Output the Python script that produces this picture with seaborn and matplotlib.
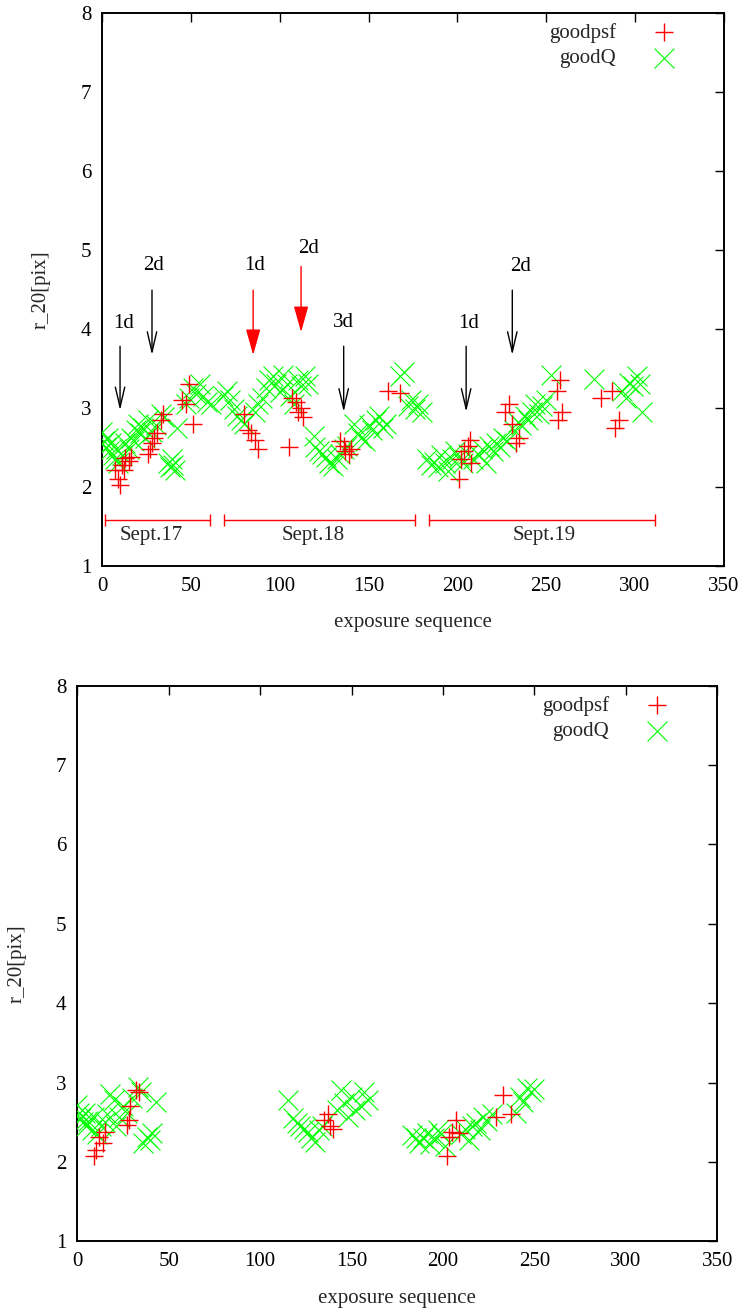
import matplotlib
matplotlib.use("Agg")
import matplotlib.pyplot as plt
import seaborn as sns
import pandas as pd
from matplotlib.patches import ArrowStyle

# ---------------- data: top panel ----------------
top_psf_x = [7, 9, 10, 11, 12, 13, 15, 16, 26, 27, 28, 29, 31, 33, 34, 45, 47, 49, 51,
             80, 82, 84, 86, 88, 105, 107, 109, 110, 112, 113, 134, 136, 137, 139, 140,
             161, 168, 201, 202, 204, 206, 207, 208, 227, 229, 231, 233, 235,
             256, 258, 257, 259, 281, 287, 289, 291]
top_psf_y = [2.22, 2.10, 2.03, 2.28, 2.22, 2.37, 2.33, 2.38, 2.42, 2.48, 2.55, 2.62, 2.68, 2.85, 2.92, 3.10, 3.05, 3.30, 2.80,
             2.92, 2.72, 2.68, 2.60, 2.48, 2.50, 3.12, 3.08, 2.95, 3.00, 2.88, 2.58, 2.52, 2.45, 2.42, 2.48,
             3.21, 3.19, 2.10, 2.35, 2.45, 2.52, 2.60, 2.30, 2.95, 3.05, 2.80, 2.55, 2.62,
             3.22, 3.35, 2.85, 2.95, 3.13, 3.22, 2.75, 2.85]

top_q_x = [0, 1, 2, 3, 4, 5, 6, 7, 8, 9, 11, 13, 15, 16, 18, 19, 20, 21, 23, 24, 26, 28, 30, 33, 35,
           37, 38, 39, 40, 41, 42, 47, 49, 51, 53, 55, 57, 59, 61,
           68, 70, 72, 74, 76, 78, 80, 86, 88, 90, 92, 94, 96, 98, 100, 102, 104, 106, 108, 110, 112, 114, 116,
           119, 120, 122, 124, 126, 128, 130, 132, 134, 136, 138, 142, 144, 146, 148, 150, 152, 154, 156, 158, 160,
           168, 170, 172, 174, 176, 178, 180,
           183, 185, 187, 189, 191, 193, 195, 197, 199, 201, 203, 206, 209, 212, 214, 216, 218, 220, 222, 224, 226, 228,
           232, 234, 236, 238, 240, 242, 244, 246, 248, 250, 253, 277, 293, 295, 297, 299, 301, 303, 304]
top_q_y = [2.70, 2.58, 2.50, 2.62, 2.45, 2.55, 2.40, 2.35, 2.48, 2.30, 2.40, 2.55, 2.48, 2.62, 2.58, 2.72, 2.80, 2.68, 2.75, 2.62, 2.85, 2.70, 2.78, 2.92, 2.88,
           2.30, 2.25, 2.35, 2.28, 2.22, 2.75, 3.05, 3.12, 3.25, 3.18, 3.30, 3.15, 3.08, 3.05,
           3.15, 3.22, 3.10, 2.98, 2.90, 2.85, 2.80, 2.95, 3.05, 3.12, 3.25, 3.35, 3.40, 3.30, 3.20, 3.42, 3.30, 3.15, 3.05, 3.35, 3.28, 3.40, 3.30,
           2.65, 2.50, 2.45, 2.42, 2.38, 2.30, 2.26, 2.35, 2.42, 2.48, 2.52, 2.80, 2.68, 2.62, 2.58, 2.78, 2.72, 2.85, 2.90, 2.75, 2.80,
           3.40, 3.45, 3.02, 3.10, 2.98, 3.05, 2.95,
           2.35, 2.28, 2.32, 2.25, 2.40, 2.30, 2.20, 2.35, 2.45, 2.38, 2.30, 2.42, 2.35, 2.40, 2.48, 2.30, 2.52, 2.45, 2.55, 2.50, 2.62, 2.58,
           2.72, 2.82, 2.78, 2.90, 2.85, 2.95, 3.05, 2.92, 3.02, 3.10, 3.42, 3.36, 3.22, 3.12, 3.32, 3.28, 3.40, 3.30, 2.95]

# ---------------- data: bottom panel ----------------
bot_psf_x = [9, 10, 12, 14, 15, 27, 28, 29, 32, 34, 135, 137, 138, 140,
             202, 203, 205, 207, 209, 229, 233, 237]
bot_psf_y = [2.07, 2.15, 2.32, 2.24, 2.38, 2.47, 2.53, 2.70, 2.90, 2.88, 2.53, 2.61, 2.45, 2.41,
             2.08, 2.32, 2.38, 2.53, 2.36, 2.57, 2.84, 2.61]

bot_q_x = [0, 1, 2, 3, 4, 5, 6, 8, 9, 11, 13, 15, 16, 18, 20, 21, 23, 25, 27, 30, 33, 35, 36, 38, 40, 41, 43,
           115, 118, 120, 122, 124, 126, 128, 130, 132, 134, 142, 144, 146, 148, 150, 152, 155, 157, 159,
           183, 185, 187, 189, 191, 193, 195, 197, 199, 201, 210, 212, 214, 216, 218, 220, 222, 224, 227,
           240, 242, 244, 246, 248, 250]
bot_q_y = [2.72, 2.62, 2.55, 2.50, 2.62, 2.45, 2.52, 2.40, 2.57, 2.35, 2.45, 2.50, 2.61, 2.86, 2.78, 2.45, 2.57, 2.70, 2.62, 2.80, 2.95, 2.88, 2.24, 2.32, 2.28, 2.36, 2.76,
           2.78, 2.55, 2.49, 2.45, 2.42, 2.38, 2.30, 2.25, 2.40, 2.45, 2.66, 2.90, 2.74, 2.57, 2.82, 2.65, 2.70, 2.88, 2.78,
           2.34, 2.30, 2.24, 2.30, 2.36, 2.22, 2.30, 2.40, 2.35, 2.20, 2.35, 2.41, 2.28, 2.45, 2.49, 2.40, 2.57, 2.52, 2.60,
           2.62, 2.82, 2.75, 2.93, 2.88, 2.92]

# ---------------- annotations (top panel) ----------------
arrow_x = [10, 28, 85, 112, 136, 205, 231]
arrow_top = [3.78, 4.49, 4.49, 4.79, 3.78, 3.78, 4.49]
arrow_tip = [2.97, 3.67, 3.67, 3.96, 2.95, 2.95, 3.67]
arrow_red = [False, False, True, True, False, False, False]
arrow_labels = ["1d", "2d", "1d", "2d", "3d", "1d", "2d"]
arrow_label_x = [11.8, 28.7, 86, 116, 136, 206.2, 235.7]
arrow_label_y = [4.07, 4.80, 4.80, 5.02, 4.08, 4.07, 4.79]

night_labels = ["Sept.17", "Sept.18", "Sept.19"]
night_start = [1.4, 68.5, 184.3]
night_end = [60.7, 176.3, 311.3]
night_label_x = [27.7, 118.6, 248.7]
night_bar_y = 1.58
night_label_y = 1.38

x_ticks = [0, 50, 100, 150, 200, 250, 300, 350]
y_ticks = [1, 2, 3, 4, 5, 6, 7, 8]

# ---------------- style ----------------
sns.set_theme(style="white")
plt.rcParams["font.family"] = ["Liberation Serif", "DejaVu Serif"]
FS = 15

fig = plt.figure(figsize=(7.44, 13.08), dpi=100)
ax_top = fig.add_axes([102.3 / 744, 1 - 566 / 1308, 621.2 / 744, 553.3 / 1308])
ax_bot = fig.add_axes([77.3 / 744, 1 - 1241.3 / 1308, 640 / 744, 555.6 / 1308])

RED = "#ff0000"
GREEN = "#00ff00"


def draw_panel(ax, psf_x, psf_y, q_x, q_y, lab_x, lab_top):
    dq = pd.DataFrame({"x": q_x, "y": q_y})
    dp = pd.DataFrame({"x": psf_x, "y": psf_y})
    sns.scatterplot(data=dq, x="x", y="y", ax=ax, marker="x", color=GREEN,
                    s=205, linewidth=0.8, label="goodQ", zorder=3)
    sns.scatterplot(data=dp, x="x", y="y", ax=ax, marker="+", color=RED,
                    s=185, linewidth=1.0, label="goodpsf", zorder=4)
    ax.set_xlim(0, 350)
    ax.set_ylim(1, 8)
    ax.set_xticks(x_ticks)
    ax.set_yticks(y_ticks)
    ax.set_xticklabels([str(v) for v in x_ticks], fontsize=FS)
    ax.set_yticklabels([str(v) for v in y_ticks], fontsize=FS)
    ax.tick_params(axis="both", direction="in", length=6.5, width=1.0,
                   top=True, right=True, colors="black")
    ax.tick_params(axis="x", pad=8)
    ax.tick_params(axis="y", pad=8)
    for sp in ax.spines.values():
        sp.set_visible(True)
        sp.set_color("black")
        sp.set_linewidth(1.4)
    ax.set_xlabel("exposure sequence", fontsize=FS)
    ax.set_ylabel("r_20[pix]", fontsize=FS)
    ax.xaxis.set_label_coords(0.5, lab_x)
    ax.yaxis.set_label_coords(lab_top, 0.5)
    ax.grid(False)
    handles, labels = ax.get_legend_handles_labels()
    order = [labels.index("goodpsf"), labels.index("goodQ")]
    ax.legend([handles[i] for i in order], [labels[i] for i in order],
              loc="upper right", bbox_to_anchor=(0.951, 0.997), frameon=False,
              markerfirst=False, fontsize=FS, handletextpad=1.3,
              labelspacing=0.3, borderaxespad=0, scatterpoints=1)


draw_panel(ax_top, top_psf_x, top_psf_y, top_q_x, top_q_y, -0.085, -0.083)
draw_panel(ax_bot, bot_psf_x, bot_psf_y, bot_q_x, bot_q_y, -0.086, -0.080)

# arrows and labels in top panel
for x, yt, yb, red, lab, lx, ly in zip(arrow_x, arrow_top, arrow_tip, arrow_red,
                                        arrow_labels, arrow_label_x, arrow_label_y):
    if red:
        style = ArrowStyle("-|>", head_length=1.6, head_width=0.45)
        col = RED
    else:
        style = ArrowStyle("->", head_length=1.45, head_width=0.34)
        col = "black"
    ax_top.annotate("", xy=(x, yb), xytext=(x, yt),
                    arrowprops=dict(arrowstyle=style, color=col, lw=1.0,
                                    shrinkA=0, shrinkB=0, mutation_scale=10),
                    zorder=5)
    ax_top.text(lx, ly, lab, ha="center", va="center", fontsize=FS, color="black")

# night ranges
for s, e, lab, lx in zip(night_start, night_end, night_labels, night_label_x):
    c = (s + e) / 2.0
    ax_top.errorbar([c], [night_bar_y], xerr=[[c - s], [e - c]], fmt="none",
                    ecolor=RED, elinewidth=1.0, capsize=4.3, capthick=1.0)
    ax_top.text(lx, night_label_y, lab, ha="center", va="center", fontsize=FS)

fig.savefig("out.png", dpi=100)
